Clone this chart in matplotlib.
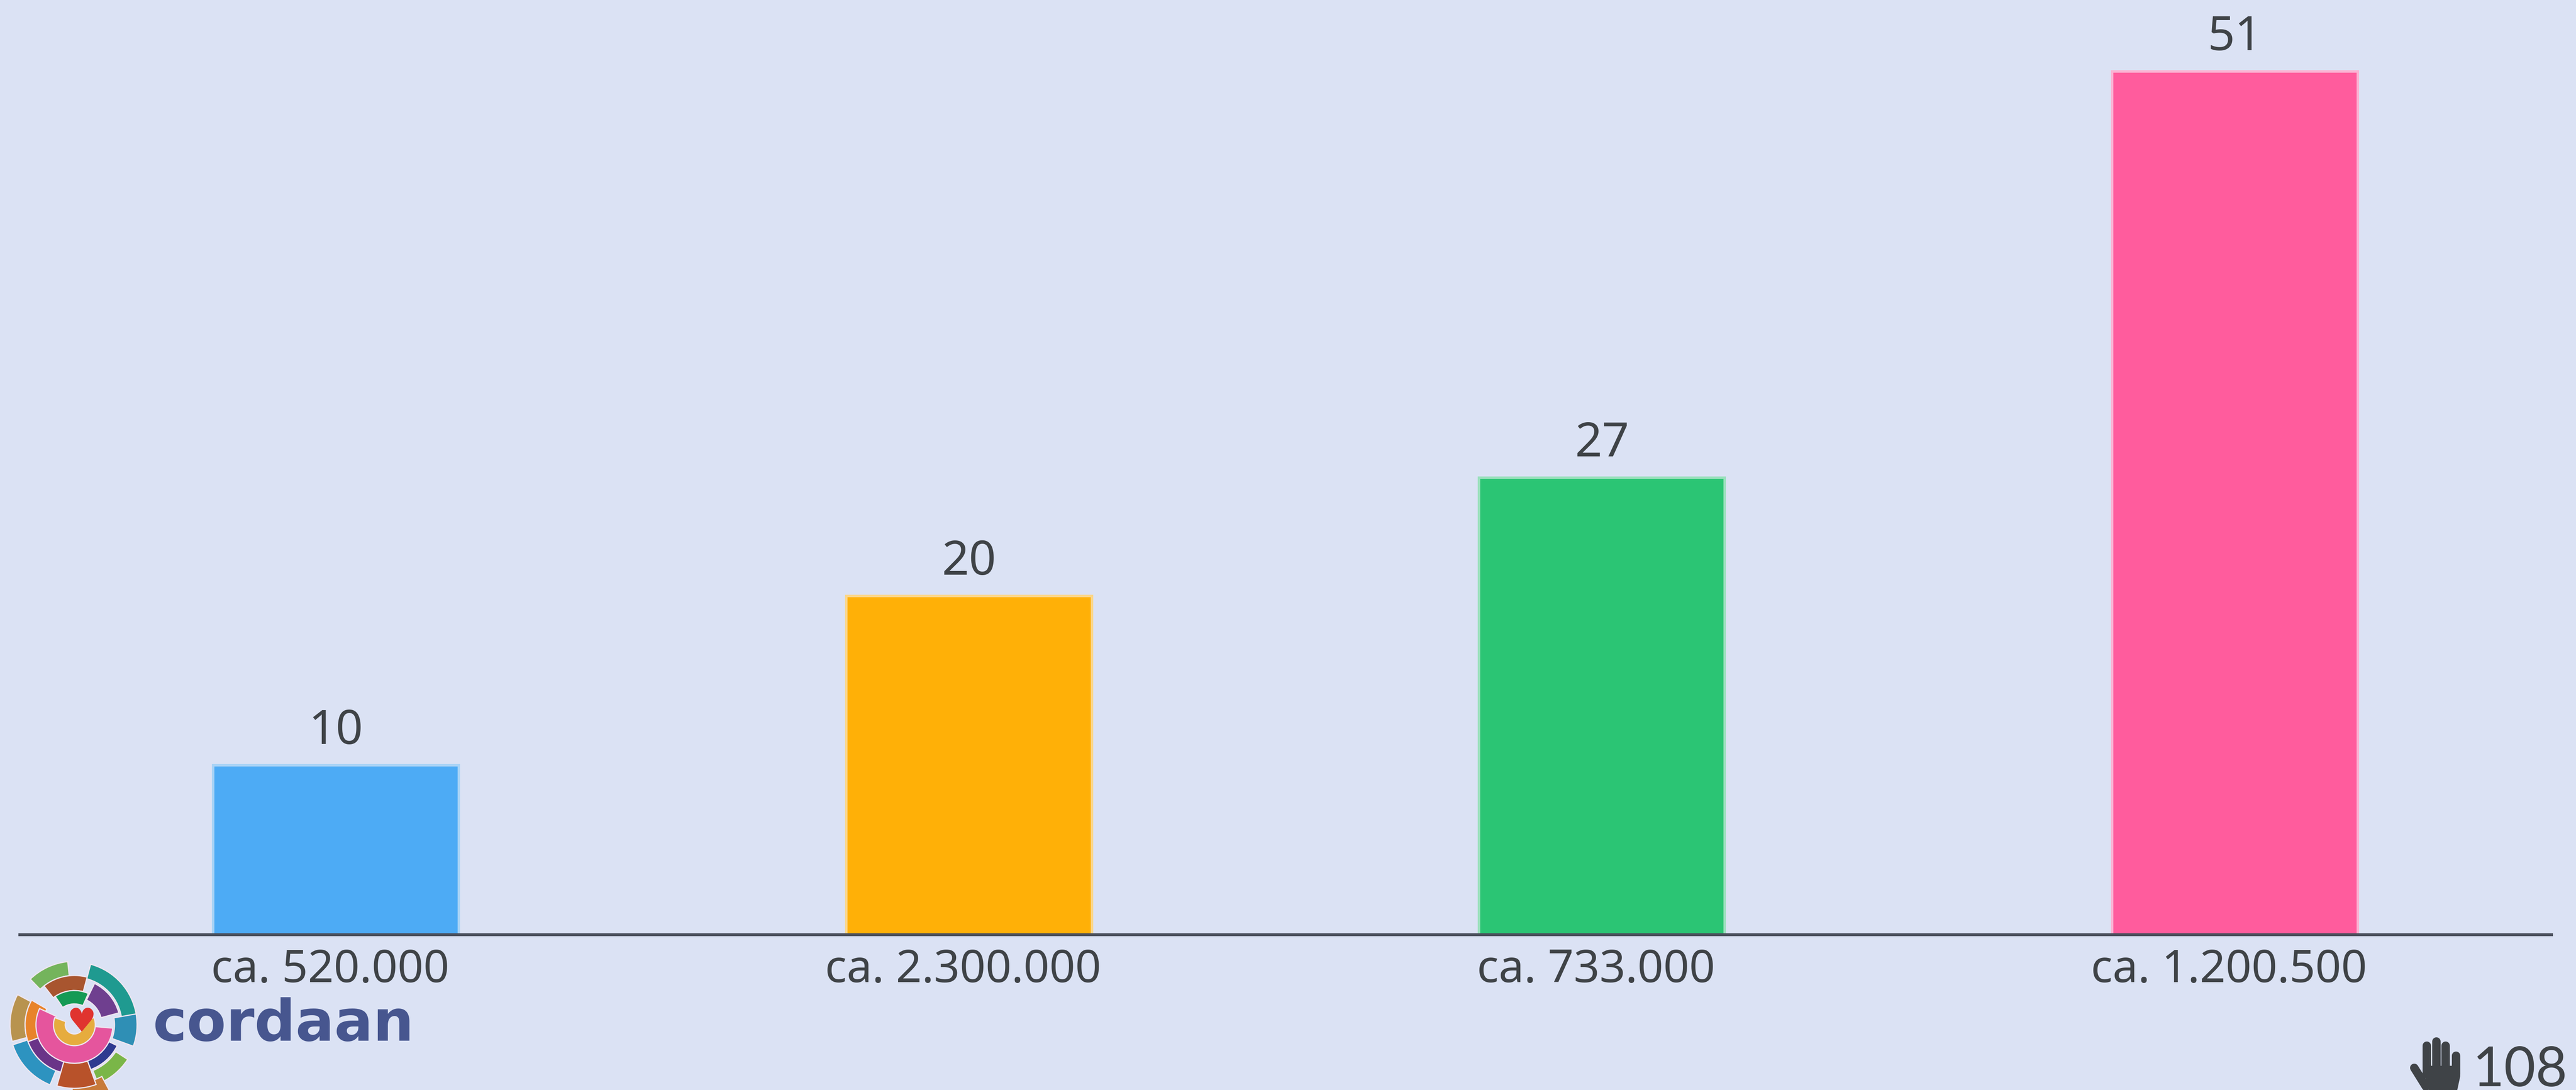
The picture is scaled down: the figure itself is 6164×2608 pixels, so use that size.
import matplotlib
matplotlib.use("Agg")
import matplotlib.pyplot as plt
from matplotlib.patches import Wedge, Polygon
from matplotlib.transforms import ScaledTranslation

W, H = 6164, 2608
categories = ["ca. 520.000", "ca. 2.300.000", "ca. 733.000", "ca. 1.200.500"]
values = [10, 20, 27, 51]
bar_colors = ["#4dabf5", "#ffb007", "#2bc574", "#ff5c9d"]
edge_colors = ["#a9d3f6", "#fbd68a", "#9be0bd", "#fbb3d3"]
response_count = "108"
logo_text = "cordaan"

BG = "#dbe2f4"
INK = "#3f4347"

fig = plt.figure(figsize=(W / 100, H / 100), dpi=100, facecolor=BG)
ax = fig.add_axes([47 / W, (H - 2236) / H, 6058 / W, 2236 / H], facecolor="none")
bars = ax.bar(range(4), values, width=0.388, color=bar_colors, edgecolor=edge_colors, linewidth=4.3)
ax.set_xlim(-0.5, 3.5)
ax.set_ylim(0, 2236 / 40.5)
for s in ["top", "left", "right"]:
    ax.spines[s].set_visible(False)
ax.spines["bottom"].set_color("#4a4f5c")
ax.spines["bottom"].set_linewidth(5)
ax.set_yticks([])
ax.set_xticks(range(4))
ax.set_xticklabels(categories, fontsize=78, family="Noto Sans", color=INK)
ax.tick_params(axis="x", length=0, pad=23)
shift = ScaledTranslation(-14 / 100, 0, fig.dpi_scale_trans)
for lab in ax.get_xticklabels():
    lab.set_transform(lab.get_transform() + shift)
ax.bar_label(bars, labels=[str(v) for v in values], padding=17, fontsize=82,
             family="Noto Sans", color=INK)

# Overlay in pixel coordinates for the logo and the response counter
ov = fig.add_axes([0, 0, 1, 1], facecolor="none")
ov.set_xlim(0, W)
ov.set_ylim(H, 0)
ov.axis("off")

cx, cy = 178, 2452
# colour, r_in, r_out, start, end (clockwise from east, because y is inverted)
logo_segments = [
    ("#74b45c", 118, 152, 226, 264),
    ("#1f9a90", 114, 150, 285, 352),
    ("#2f8fb5", 96, 150, 350, 380),
    ("#b8934f", 118, 154, 165, 208),
    ("#2d93c0", 118, 155, 112, 162),
    ("#7ab648", 118, 152, 33, 68),
    ("#c87a3a", 140, 178, 62, 92),
    ("#a8552f", 82, 118, 232, 285),
    ("#6f3f8f", 66, 110, 296, 345),
    ("#e8832a", 76, 118, 160, 210),
    ("#6a3488", 62, 118, 100, 160),
    ("#2f3a90", 70, 114, 26, 70),
    ("#b8522a", 92, 152, 70, 106),
    ("#159a55", 50, 82, 236, 294),
    ("#e5559d", 48, 92, 5, 205),
    ("#e6ac3e", 22, 50, -20, 200),
]
for c, r0, r1, a0, a1 in logo_segments:
    ov.add_patch(Wedge((cx, cy), r1, a0, a1, width=r1 - r0, facecolor=c, edgecolor="#eee6f0", linewidth=2))
ov.text(cx + 17, 2446, "\u2665", fontsize=56, family="DejaVu Sans", color="#e0342f", ha="center", va="center")
ov.text(365, 2490, logo_text, fontsize=99, family="DejaVu Sans", weight="bold", color="#47568f", ha="left", va="baseline")

# Raised hand icon
for x, top in [(5807, 2502), (5830, 2492), (5852, 2502), (5877, 2526)]:
    ov.plot([x, x], [top, 2570], color=INK, lw=14.5, solid_capstyle="round")
ov.plot([5777, 5805], [2555, 2600], color=INK, lw=14.5, solid_capstyle="round")
ov.add_patch(Polygon([(5797, 2550), (5887, 2550), (5887, 2575), (5879, 2612), (5813, 2612)],
                     facecolor=INK, edgecolor="none"))
ov.text(5916, 2599, response_count, fontsize=94, family="Lato", color=INK, ha="left", va="baseline")

fig.savefig("out.png", dpi=100, facecolor=BG)
